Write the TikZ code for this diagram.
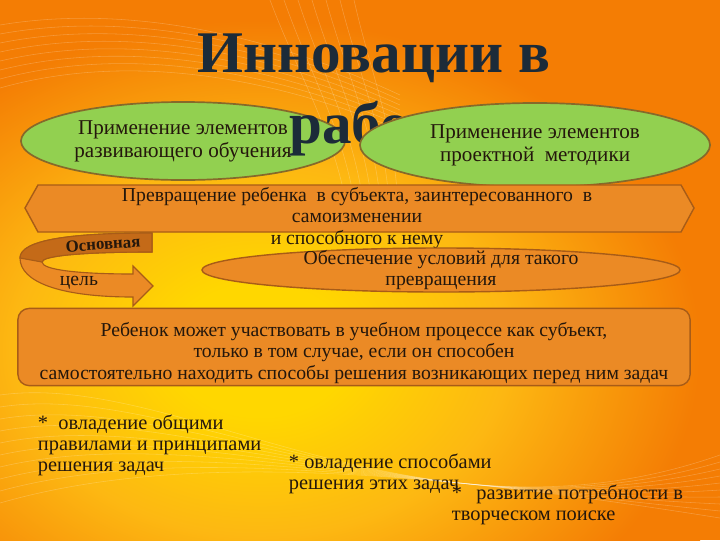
\documentclass[tikz,border=0pt]{standalone}
\usepackage{fontspec}
\setmainfont{Liberation Serif}
\usetikzlibrary{shapes.geometric}

\definecolor{bgorange}{HTML}{F47D04}
\definecolor{glowin}{HTML}{FFD700}
\definecolor{glowmid}{HTML}{FDB812}
\definecolor{titleblue}{HTML}{1C2B39}
\definecolor{greenfill}{HTML}{92D050}
\definecolor{greenline}{HTML}{86692A}
\definecolor{orangefill}{HTML}{EB8A25}
\definecolor{orangeline}{HTML}{A85C17}
\definecolor{ribbondark}{HTML}{C46A18}
\definecolor{textdark}{HTML}{24170C}

\pgfdeclareradialshading{bgglow}{\pgfpoint{0bp}{0bp}}{color(0bp)=(glowin); color(5bp)=(glowin); color(14bp)=(glowmid); color(25bp)=(bgorange); color(50bp)=(bgorange)}

\begin{document}
\begin{tikzpicture}[x=0.025cm, y=-0.025cm,
    greenell/.style={ellipse, draw=greenline, line width=1.2pt, fill=greenfill, inner sep=0pt, align=center, text=textdark, font=\fontsize{15}{16.5}\selectfont},
    orangeell/.style={ellipse, draw=orangeline, line width=1pt, fill=orangefill, inner sep=0pt},
    bodytext/.style={align=center, text=textdark, font=\fontsize{14}{15}\selectfont},
    note/.style={align=left, anchor=north west, text=textdark, font=\fontsize{14.5}{15}\selectfont},
    titletext/.style={text=titleblue, font=\fontsize{42}{42}\selectfont\bfseries},
    wave/.style={white, opacity=0.22, line width=0.4pt}]

    % background
    \useasboundingbox (0,0) rectangle (720,540);
    \fill[bgorange] (0,0) rectangle (720,540);
    \begin{scope}
        \clip (0,0) rectangle (720,540);
        \shade[shading=bgglow] (-180,20) rectangle (700,680);
        \foreach \k in {0,...,9}
            \draw[wave] (0,{395+\k*12}) .. controls (180,{370+\k*9}) and (420,{560-\k*10}) .. (720,{455+\k*7});
        \foreach \k in {0,...,7}
            \draw[wave] (0,{25+\k*9}) .. controls (120,{5+\k*7}) and (260,{30+\k*6}) .. (400,{95+\k*5});
        \foreach \k in {0,...,6}
            \draw[wave] ({270+\k*14},0) .. controls ({300+\k*12},80) and ({340+\k*10},140) .. ({350+\k*8},230);
    \end{scope}

    % title, left ellipse under its second line, right ellipse over it
    \node[titletext, anchor=base] (title1) at (374,72) {Инновации в};
    \node[greenell, minimum width=8.1cm, minimum height=1.95cm] (razv) at (183,141) {Применение элементов\\развивающего обучения};
    \node[titletext, anchor=base west, inner xsep=0pt] (title2) at (289,143) {работе};
    \node[greenell, minimum width=8.75cm, minimum height=2.1cm] (proekt) at (535,145) {Применение элементов\\проектной\ \ методики};

    % banner
    \draw[orangeline, line width=1pt, fill=orangefill] (25,208) -- (38,185) -- (681,185) -- (694,208) -- (681,232) -- (38,232) -- cycle;
    \node[bodytext] (subj) at (357,218) {Превращение ребенка\ \ в субъекта, заинтересованного\ \ в\\самоизменении\\и способного к нему};

    % curved arrow
    \draw[orangeline, line width=0.8pt, fill=orangefill] (152,233) .. controls (70,233) and (20,240) .. (20,258)
        .. controls (20,282) and (60,297) .. (133,297) -- (133,306) -- (153,286) -- (133,266) -- (133,274)
        .. controls (80,274) and (42,270) .. (42,262) .. controls (42,256) and (80,252) .. (152,252) -- cycle;
    \draw[orangeline, line width=0.8pt, fill=ribbondark] (152,233) .. controls (70,233) and (20,240) .. (20,258)
        -- (42,262) .. controls (42,256) and (80,252) .. (152,252) -- cycle;
    \node[rotate=4, text=textdark, font=\fontsize{12}{12}\selectfont\bfseries] (osn) at (103,244) {Основная};
    \node[text=textdark, font=\fontsize{14}{14}\selectfont] (cel) at (79,283) {цель};

    % conditions
    \node[orangeell, minimum width=11.95cm, minimum height=1.1cm] (usl) at (441,270) {};
    \node[bodytext] (usltext) at (usl.center) {Обеспечение условий для такого\\превращения};

    % main box
    \node[draw=orangeline, line width=1pt, fill=orangefill, rounded corners=8pt, minimum width=16.8cm, minimum height=1.93cm] (rebenok) at (354,347) {};
    \node[bodytext] (rebtext) at (354,353) {Ребенок может участвовать в учебном процессе как субъект,\\только в том случае, если он способен\\самостоятельно находить способы решения возникающих перед ним задач};

    % notes
    \node[note] (n1) at (33,410) {*\ \ овладение общими\\правилами и принципами\\решения задач};
    \node[note] (n2) at (284,449) {* овладение способами\\решения этих задач};
    \node[note] (n3) at (447,480) {*\hspace{0.7em}развитие потребности в\\творческом поиске};
\end{tikzpicture}
\end{document}
